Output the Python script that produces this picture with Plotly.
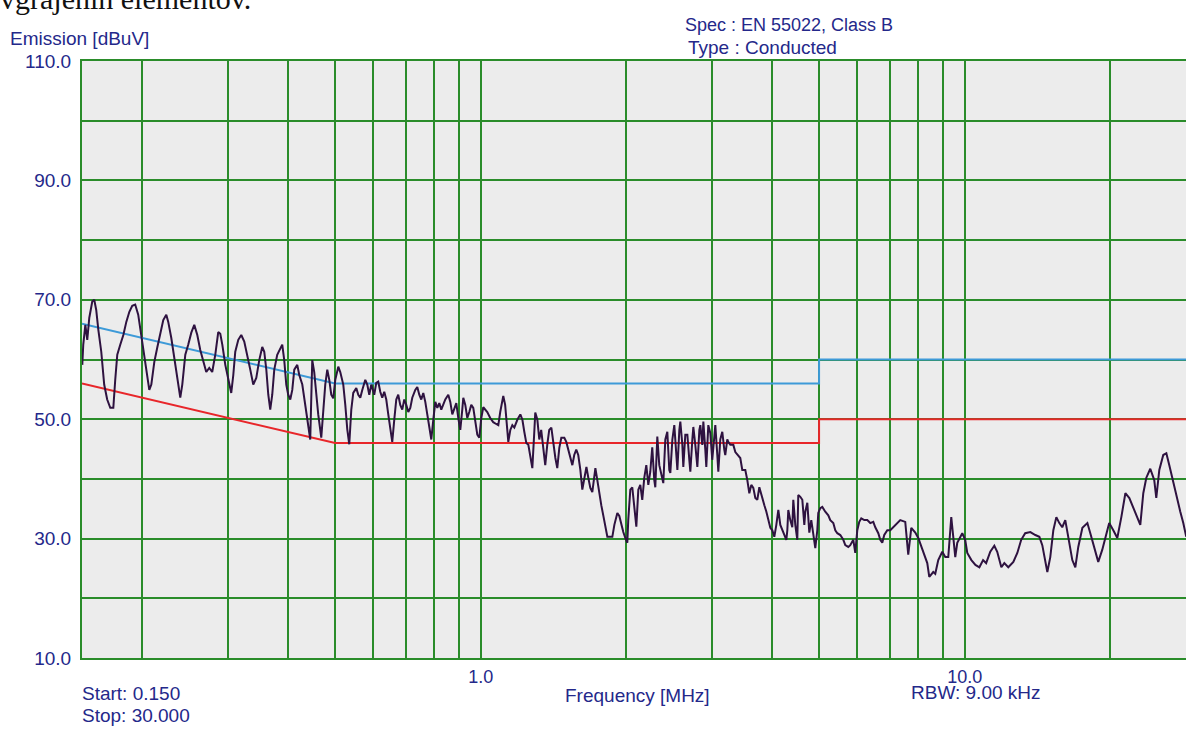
import numpy as np
import plotly.graph_objects as go

# ---------------- data ----------------
freq_mhz = [
    0.1502, 0.1509, 0.1524, 0.1538, 0.1553, 0.1575, 0.1590, 0.1605, 0.1621, 0.1644,
    0.1667, 0.1691, 0.1716, 0.1741, 0.1757, 0.1774, 0.1800, 0.1826, 0.1852, 0.1879,
    0.1905, 0.1932, 0.1960, 0.1988, 0.2017, 0.2046, 0.2066, 0.2086, 0.2116, 0.2146,
    0.2177, 0.2208, 0.2240, 0.2261, 0.2294, 0.2327, 0.2360, 0.2394, 0.2417, 0.2452,
    0.2487, 0.2523, 0.2559, 0.2596, 0.2633, 0.2671, 0.2709, 0.2748, 0.2787, 0.2828,
    0.2868, 0.2896, 0.2924, 0.2966, 0.3008, 0.3051, 0.3081, 0.3110, 0.3155, 0.3200,
    0.3246, 0.3293, 0.3340, 0.3388, 0.3437, 0.3486, 0.3536, 0.3570, 0.3605, 0.3639,
    0.3673, 0.3708, 0.3744, 0.3797, 0.3852, 0.3889,
    0.3926, 0.3964, 0.4001, 0.4040, 0.4079, 0.4118, 0.4177, 0.4217, 0.4278, 0.4339,
    0.4401, 0.4443, 0.4464, 0.4486, 0.4528, 0.4572, 0.4615, 0.4682, 0.4727, 0.4772,
    0.4818, 0.4864, 0.4910, 0.4957, 0.5005, 0.5077, 0.5125, 0.5199, 0.5249, 0.5299,
    0.5349, 0.5401, 0.5452, 0.5531, 0.5584, 0.5637, 0.5691, 0.5773, 0.5828, 0.5884,
    0.5939, 0.6024, 0.6082, 0.6140, 0.6199, 0.6258, 0.6318, 0.6379, 0.6440, 0.6501,
    0.6563, 0.6626, 0.6690, 0.6753, 0.6818, 0.6883, 0.6949, 0.7016, 0.7083, 0.7151,
    0.7219, 0.7323, 0.7393, 0.7464, 0.7535, 0.7607, 0.7680, 0.7753, 0.7827, 0.7903,
    0.7978, 0.8055, 0.8132, 0.8209, 0.8287, 0.8367, 0.8447, 0.8568, 0.8650, 0.8733,
    0.8816, 0.8901, 0.8986, 0.9071, 0.9158, 0.9202, 0.9290, 0.9379, 0.9468, 0.9558,
    0.9650, 0.9742, 0.9836, 0.9930, 1.0024, 1.0120, 1.0216,
    1.0314, 1.046, 1.061, 1.076, 1.087, 1.097, 1.108, 1.113, 1.123, 1.134,
    1.140, 1.151, 1.162, 1.173, 1.190, 1.207, 1.219, 1.230, 1.242, 1.254,
    1.266, 1.278, 1.290, 1.296, 1.309, 1.321, 1.333, 1.346, 1.359, 1.372,
    1.385, 1.399, 1.412, 1.426, 1.439, 1.453, 1.467, 1.488, 1.502, 1.517,
    1.531, 1.546, 1.560, 1.575, 1.590, 1.606, 1.621, 1.637, 1.653, 1.668,
    1.684, 1.700, 1.716, 1.725, 1.741, 1.758, 1.774, 1.791, 1.809, 1.826,
    1.852, 1.870, 1.888, 1.915, 1.933, 1.951, 1.970, 1.989, 2.008, 2.017,
    2.037, 2.056, 2.076, 2.096, 2.116, 2.136, 2.156, 2.177, 2.198, 2.219,
    2.240, 2.261, 2.283, 2.294, 2.316, 2.338,
    2.383, 2.406, 2.429, 2.452, 2.464, 2.488, 2.511, 2.535, 2.548, 2.572,
    2.584, 2.609, 2.621, 2.646, 2.672, 2.697, 2.710, 2.736, 2.749, 2.775,
    2.802, 2.829, 2.842, 2.869, 2.883, 2.910, 2.924, 2.952, 2.980, 3.008,
    3.037, 3.052, 3.081, 3.096, 3.125, 3.155, 3.185, 3.200, 3.231, 3.246,
    3.278, 3.325, 3.357, 3.405, 3.437, 3.470, 3.520, 3.554, 3.588, 3.622,
    3.657, 3.692, 3.727, 3.763, 3.817, 3.854, 3.891, 3.928, 3.965, 4.003,
    4.041, 4.080, 4.119, 4.158, 4.198, 4.238, 4.279, 4.299, 4.319, 4.360,
    4.402, 4.423, 4.465, 4.508, 4.529, 4.573, 4.617, 4.661, 4.683, 4.728,
    4.773, 4.818, 4.864, 4.911, 4.958, 4.981, 5.029, 5.077, 5.150, 5.224,
    5.274, 5.350, 5.401, 5.453, 5.531, 5.611, 5.664, 5.746, 5.800, 5.884,
    5.940, 5.997, 6.054, 6.112, 6.200, 6.289, 6.379, 6.471, 6.533, 6.627,
    6.690, 6.754, 6.818, 6.917, 7.016, 7.117, 7.219, 7.357, 7.534, 7.606,
    7.642, 7.753, 7.902, 8.015, 8.208, 8.366, 8.446, 8.608, 8.690, 8.815,
    8.985, 9.114, 9.245, 9.378, 9.467, 9.558, 9.649, 9.882, 10.02, 10.12,
    10.32, 10.52, 10.72, 10.91, 11.07, 11.29, 11.51, 11.67, 11.90, 12.07,
    12.30, 12.60, 12.84, 13.08, 13.33, 13.66, 13.99, 14.26, 14.46, 14.59,
    14.81, 15.02, 15.24, 15.46, 15.68, 15.90, 16.13, 16.36, 16.68, 16.92,
    17.16, 17.50, 17.92, 18.17, 18.61, 18.87, 19.23, 19.60, 19.88, 20.27,
    20.66, 21.06, 21.47, 21.88, 22.30, 22.73, 23.05, 23.38, 23.72, 24.17,
    24.63, 24.87, 25.23, 25.71, 26.09, 26.46, 26.96, 27.48, 27.88, 28.28,
    28.68,
]

level_dbuv = [
    59.1, 62.5, 65.8, 63.3, 67.0, 69.7, 70.0, 68.3, 65.0, 61.3,
    55.8, 53.3, 51.9, 51.9, 56.6, 60.8, 62.5, 64.1, 66.3, 68.0,
    69.0, 69.2, 67.5, 64.1, 60.3, 56.6, 54.9, 55.8, 59.6, 62.0,
    64.1, 66.6, 67.5, 66.3, 63.6, 60.3, 56.6, 53.6, 55.8, 60.8,
    62.5, 64.5, 65.8, 64.1, 61.6, 59.6, 57.9, 58.6, 57.9, 60.8,
    64.6, 64.3, 62.5, 59.1, 56.6, 54.4, 57.4, 61.3, 63.3, 64.1,
    63.0, 60.8, 58.3, 55.8, 56.9, 59.9, 62.1, 61.3, 58.3, 54.1,
    51.6, 54.1, 58.3, 60.8, 62.0, 62.5,
    59.9, 55.8, 54.1, 53.3, 54.9, 58.3, 59.1, 57.4, 55.8, 52.4,
    49.1, 46.6, 53.3, 59.9, 57.9, 54.1, 50.8, 46.9, 51.6, 55.8,
    58.3, 56.6, 54.1, 53.5, 56.6, 58.8, 57.9, 55.8, 52.4, 48.3,
    45.8, 51.6, 54.4, 55.2, 54.1, 53.6, 54.9, 56.6, 55.8, 54.1,
    55.8, 54.1, 56.1, 56.3, 54.6, 53.6, 54.6, 53.3, 50.8, 48.2,
    46.2, 49.9, 53.3, 54.1, 52.4, 51.6, 53.3, 52.4, 51.2, 51.9,
    53.6, 54.9, 55.4, 54.1, 53.3, 54.4, 52.9, 50.8, 48.6, 46.6,
    49.9, 52.9, 51.9, 52.7, 51.6, 52.4, 53.3, 54.1, 52.9, 50.8,
    51.9, 52.7, 50.2, 48.2, 51.6, 53.6, 52.4, 50.2, 51.2, 52.4,
    51.9, 49.9, 47.4, 46.9, 50.2, 52.0, 51.6,
    51.2, 50.2, 49.5, 49.2, 49.0, 51.2, 53.3, 53.9, 52.4, 49.0,
    46.2, 48.2, 49.0, 48.6, 49.9, 50.8, 49.9, 47.9, 46.0, 45.7,
    43.5, 41.8, 47.9, 51.1, 49.9, 46.6, 48.2, 44.9, 42.3, 45.7,
    48.2, 48.6, 45.7, 43.5, 41.8, 45.2, 46.9, 46.9, 46.2, 44.9,
    43.5, 42.3, 44.0, 44.9, 44.0, 41.5, 38.2, 40.2, 42.0, 40.2,
    38.5, 37.8, 41.2, 41.8, 39.8, 37.3, 35.6, 33.9, 32.3, 30.3,
    30.3, 30.3, 32.3, 34.3, 33.8, 32.3, 31.1, 30.1, 29.3, 33.1,
    38.2, 38.6, 34.8, 32.0, 38.2, 39.0, 36.5, 40.2, 42.3, 39.0,
    41.2, 45.3, 39.8, 38.6, 47.1, 42.3,
    39.3, 46.6, 47.9, 41.5, 41.0, 46.6, 49.0, 44.0, 41.5, 48.2,
    49.6, 45.7, 42.0, 47.4, 47.4, 43.2, 41.2, 46.6, 48.7, 45.7,
    42.0, 48.2, 49.0, 45.7, 49.6, 44.9, 42.0, 49.0, 47.7, 43.2,
    46.6, 49.0, 44.0, 41.2, 46.6, 47.9, 44.9, 44.0, 46.6, 46.2,
    45.7, 45.7, 44.5, 44.0, 43.5, 41.5, 41.5, 39.8, 37.6, 39.0,
    38.5, 36.8, 36.5, 38.6, 36.5, 35.6, 34.5, 33.1, 31.8, 31.4,
    30.3, 32.3, 34.8, 32.3, 31.4, 30.6, 29.8, 31.4, 34.8, 33.1,
    31.9, 36.5, 32.3, 29.8, 37.3, 37.0, 36.5, 32.3, 34.5, 36.0,
    31.0, 33.1, 30.3, 28.4, 31.4, 34.3, 35.1, 35.3, 34.5, 33.9,
    33.1, 32.6, 31.4, 30.9, 30.6, 29.8, 28.9, 28.6, 28.9, 29.8,
    27.6, 31.4, 32.8, 33.4, 33.1, 33.1, 32.6, 32.8, 31.9, 30.9,
    29.8, 29.3, 30.6, 31.4, 31.4, 31.9, 32.3, 33.1, 32.8, 29.8,
    27.3, 31.8, 31.0, 30.1, 27.8, 25.9, 23.6, 24.4, 24.1, 26.4,
    27.8, 26.9, 26.9, 33.6, 30.3, 26.9, 29.3, 30.9, 29.8, 27.6,
    26.4, 25.6, 25.2, 26.4, 25.9, 27.8, 28.8, 27.8, 25.2, 25.9,
    25.2, 26.1, 27.6, 29.8, 30.9, 31.1, 30.6, 30.3, 28.9, 27.3,
    24.4, 26.9, 31.4, 33.6, 32.6, 31.9, 33.1, 30.3, 26.4, 25.2,
    28.6, 31.8, 32.6, 30.9, 28.1, 26.1, 28.1, 30.9, 32.6, 31.4,
    30.1, 33.6, 37.6, 36.8, 35.1, 33.6, 32.3, 37.6, 40.2, 41.7,
    39.8, 36.8, 41.5, 44.0, 44.3, 42.3, 39.3, 36.5, 34.5, 32.6,
    30.3,
]

# EN 55022 Class B limits
limit_freq_mhz = [0.15, 0.5, 5.0, 5.0, 30.0]
limit_qp_dbuv = [66.0, 56.0, 56.0, 60.0, 60.0]
limit_avg_dbuv = [56.0, 46.0, 46.0, 50.0, 50.0]

# axis ticks
x_grid_vals = [0.2, 0.3, 0.4, 0.5, 0.6, 0.7, 0.8, 0.9, 1.0,
               2.0, 3.0, 4.0, 5.0, 6.0, 7.0, 8.0, 9.0, 10.0, 20.0]
x_grid_text = ["", "", "", "", "", "", "", "", "1.0",
               "", "", "", "", "", "", "", "", "10.0", ""]
y_grid_vals = [10, 20, 30, 40, 50, 60, 70, 80, 90, 100, 110]
y_grid_text = ["10.0", "", "30.0", "", "50.0", "", "70.0", "", "90.0", "", "110.0"]

# ---------------- figure ----------------
TEXT = "#24288a"
GRID = "#2a8c2a"
FONT = "Liberation Sans"
FS = 19

fig = go.Figure()
fig.add_trace(go.Scatter(x=limit_freq_mhz, y=limit_qp_dbuv, mode="lines",
                         line=dict(color="#3d9ad8", width=2), showlegend=False))
fig.add_trace(go.Scatter(x=limit_freq_mhz, y=limit_avg_dbuv, mode="lines",
                         line=dict(color="#e8262a", width=2), showlegend=False))
fig.add_trace(go.Scatter(x=freq_mhz, y=level_dbuv, mode="lines",
                         line=dict(color="#2e1240", width=2), showlegend=False))

fig.update_layout(
    width=1186, height=729, autosize=False,
    margin=dict(l=82, r=0, t=61, b=71, pad=0),
    paper_bgcolor="white", plot_bgcolor="#ececec",
    font=dict(family=FONT, size=FS, color=TEXT),
)
fig.update_xaxes(
    type="log", range=[np.log10(0.15), np.log10(0.15) + 1104 / 484],
    tickvals=x_grid_vals, ticktext=x_grid_text, tickangle=0,
    showgrid=True, gridcolor=GRID, gridwidth=2,
    showline=True, linecolor=GRID, linewidth=2, mirror=True,
    ticks="", zeroline=False, ticklabelstandoff=1,
    tickfont=dict(family=FONT, size=18, color=TEXT),
)
fig.update_yaxes(
    range=[10, 110], tickvals=y_grid_vals, ticktext=y_grid_text,
    showgrid=True, gridcolor=GRID, gridwidth=2,
    showline=True, linecolor=GRID, linewidth=2,
    ticks="", zeroline=False, ticklabelstandoff=5,
    tickfont=dict(family=FONT, size=19, color=TEXT),
)

def ann(text, x, y, xanchor="left", yanchor="middle", size=FS, color=TEXT, family=FONT):
    fig.add_annotation(text=text, xref="paper", yref="paper", x=x, y=y,
                       xanchor=xanchor, yanchor=yanchor, showarrow=False,
                       font=dict(family=family, size=size, color=color))

W, H, L, T = 1104.0, 597.0, 82.0, 61.0
px = lambda p: (p - L) / W
py = lambda p: 1 - (p - T) / H

ann("Emission [dBuV]", px(8), py(38))
ann("Spec : EN 55022, Class B", px(683), py(25), size=18)
ann("Type : Conducted", px(686), py(47))
ann("Frequency [MHz]", px(637), py(695), xanchor="center")
ann("RBW: 9.00 kHz", px(909), py(692))
ann("Start: 0.150", px(80), py(693))
ann("Stop: 30.000", px(80), py(716))
ann("vgrajenih elementov.", px(-2), py(17), yanchor="bottom", size=30,
    color="#111111", family="Liberation Serif")

fig.write_html("out.html", config={"displayModeBar": False},
               post_script="document.body.style.margin='0';document.body.style.overflow='hidden';")
